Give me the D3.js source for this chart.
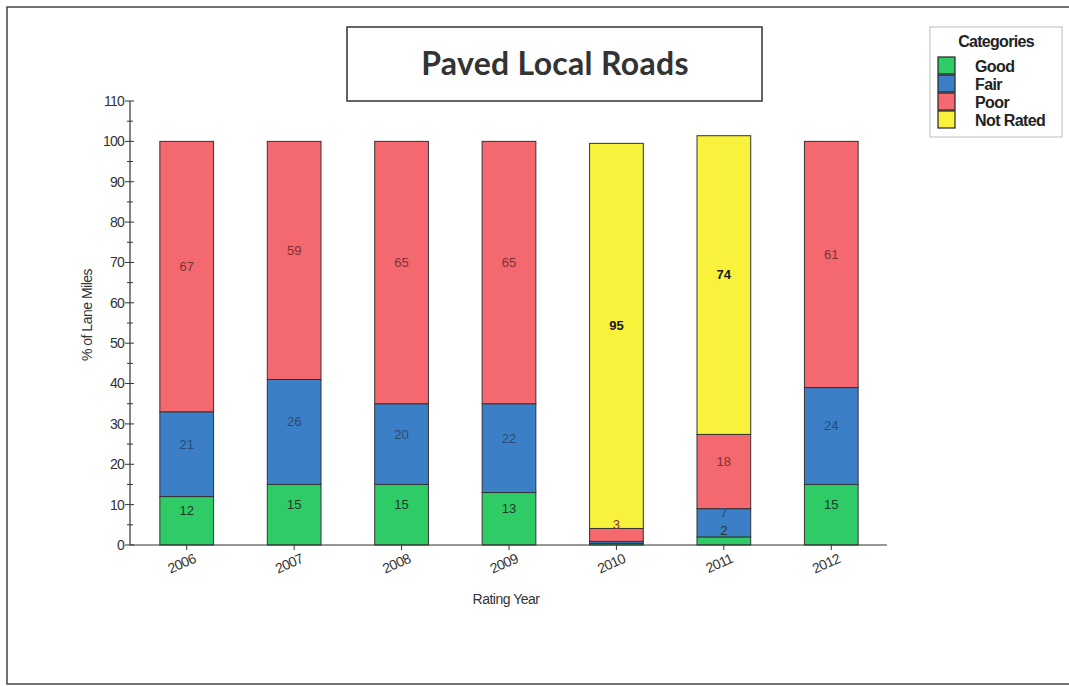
<!DOCTYPE html>
<html>
<head>
<meta charset="utf-8">
<script src="https://cdn.jsdelivr.net/npm/d3@7"></script>
<style>
  html, body { margin: 0; padding: 0; background: #fff; }
  svg { display: block; }
</style>
</head>
<body>
<svg id="chart" width="1069" height="686"></svg>
<script>
// ---- Data ----
const years    = ["2006", "2007", "2008", "2009", "2010", "2011", "2012"];
const good     = [12, 15, 15, 13, 0.4, 2, 15];
const fair     = [21, 26, 20, 22, 0.5, 7, 24];
const poor     = [67, 59, 65, 65, 3.2, 18.4, 61];
const notRated = [0, 0, 0, 0, 95.4, 74, 0];
const seriesNames = ["Good", "Fair", "Poor", "Not Rated"];
const yTicks = [0, 10, 20, 30, 40, 50, 60, 70, 80, 90, 100, 110];

const colors = { "Good": "#2fcb66", "Fair": "#3b7fc6", "Poor": "#f4696f", "Not Rated": "#f9f23c" };
const labelColors = { "Good": "#1f3a2a", "Fair": "#2a4a72", "Poor": "#7e3038", "Not Rated": "#1a1a1a" };

const table = years.map((y, i) => ({
  year: y, "Good": good[i], "Fair": fair[i], "Poor": poor[i], "Not Rated": notRated[i]
}));

const svg = d3.select("#chart");
const font = "'Liberation Sans', Arial, sans-serif";

// outer frame
svg.append("path")
  .attr("d", "M1069,7 L7,7 L7,684 L1069,684")
  .attr("fill", "none").attr("stroke", "#444").attr("stroke-width", 1.5);

// scales
const x = d3.scaleBand().domain(years).range([133, 885]).paddingInner(0.5).paddingOuter(0.25);
const y = d3.scaleLinear().domain([0, 110]).range([545, 101]);

// stacked bars
const stack = d3.stack().keys(seriesNames)(table);
const g = svg.append("g");
stack.forEach(layer => {
  const key = layer.key;
  g.selectAll(null).data(layer.filter(d => d[1] - d[0] > 0)).enter().append("rect")
    .attr("x", d => x(d.data.year))
    .attr("width", x.bandwidth())
    .attr("y", d => y(d[1]))
    .attr("height", d => y(d[0]) - y(d[1]))
    .attr("fill", colors[key])
    .attr("stroke", "#333")
    .attr("stroke-width", 1);
});
stack.forEach(layer => {
  const key = layer.key;
  g.selectAll(null).data(layer.filter(d => d[1] - d[0] >= 2)).enter().append("text")
    .attr("x", d => x(d.data.year) + x.bandwidth() / 2)
    .attr("y", d => (y(d[0]) + y(d[1])) / 2 - 9)
    .attr("text-anchor", "middle")
    .attr("dominant-baseline", "middle")
    .attr("font-family", font)
    .attr("font-size", 13)
    .attr("font-weight", key === "Not Rated" ? "bold" : "normal")
    .attr("fill", labelColors[key])
    .text(d => Math.round(d[1] - d[0]));
});

// y axis
const yAxis = svg.append("g").attr("transform", "translate(130,0)");
yAxis.append("line").attr("x1", 0).attr("x2", 0).attr("y1", y(110)).attr("y2", y(0))
  .attr("stroke", "#333").attr("stroke-width", 1.2);
const minor = d3.range(5, 110, 10);
yAxis.selectAll(".minor").data(minor).enter().append("line")
  .attr("x1", -3).attr("x2", 3).attr("y1", d => y(d)).attr("y2", d => y(d))
  .attr("stroke", "#333");
yAxis.selectAll(".major").data(yTicks).enter().append("line")
  .attr("x1", -5).attr("x2", 4).attr("y1", d => y(d)).attr("y2", d => y(d))
  .attr("stroke", "#333");
yAxis.selectAll(".lbl").data(yTicks).enter().append("text")
  .attr("x", -6).attr("y", d => y(d)).attr("dy", "0.35em")
  .attr("text-anchor", "end")
  .attr("font-family", font).attr("font-size", 14).attr("fill", "#333")
  .attr("letter-spacing", "-0.8")
  .text(d => d);

// x axis
svg.append("line").attr("x1", 130).attr("x2", 887).attr("y1", y(0)).attr("y2", y(0))
  .attr("stroke", "#333").attr("stroke-width", 1.2);
svg.selectAll(".xt").data(years).enter().append("line")
  .attr("x1", d => x(d) + x.bandwidth() / 2).attr("x2", d => x(d) + x.bandwidth() / 2)
  .attr("y1", y(0)).attr("y2", y(0) + 5)
  .attr("stroke", "#333");
svg.selectAll(".xl").data(years).enter().append("text")
  .attr("transform", d => `translate(${x(d) + x.bandwidth() / 2 + 10},${y(0) + 17}) rotate(-24)`)
  .attr("text-anchor", "end")
  .attr("font-family", font).attr("font-size", 14).attr("fill", "#333")
  .attr("letter-spacing", "-0.6")
  .text(d => d);

// axis titles
svg.append("text")
  .attr("transform", "translate(92,315) rotate(-90)")
  .attr("text-anchor", "middle")
  .attr("font-family", font).attr("font-size", 14).attr("fill", "#333")
  .attr("letter-spacing", "-0.5")
  .text("% of Lane Miles");
svg.append("text")
  .attr("x", 506).attr("y", 604)
  .attr("text-anchor", "middle")
  .attr("font-family", font).attr("font-size", 14).attr("fill", "#333")
  .attr("letter-spacing", "-0.5")
  .text("Rating Year");

// title box
svg.append("rect").attr("x", 347).attr("y", 27).attr("width", 415).attr("height", 74)
  .attr("fill", "#fff").attr("stroke", "#333").attr("stroke-width", 1.5);
svg.append("text")
  .attr("x", 555).attr("y", 75)
  .attr("text-anchor", "middle")
  .attr("font-family", "Lato, 'Open Sans', sans-serif").attr("font-weight", "bold")
  .attr("font-size", 32).attr("fill", "#333")
  .attr("letter-spacing", "0.3")
  .text("Paved Local Roads");

// legend
const lg = svg.append("g");
lg.append("rect").attr("x", 930).attr("y", 27).attr("width", 132).attr("height", 110)
  .attr("fill", "#fff").attr("stroke", "#bbb").attr("stroke-width", 1);
lg.append("text").attr("x", 996).attr("y", 47).attr("text-anchor", "middle")
  .attr("font-family", font).attr("font-weight", "bold").attr("font-size", 16)
  .attr("letter-spacing", "-0.7").attr("fill", "#222")
  .text("Categories");
seriesNames.forEach((s, i) => {
  const yy = 57 + i * 18;
  lg.append("rect").attr("x", 938).attr("y", yy).attr("width", 17).attr("height", 17)
    .attr("fill", colors[s]).attr("stroke", "#222").attr("stroke-width", 1.2);
  lg.append("text").attr("x", 975).attr("y", yy + 9).attr("dy", "0.35em")
    .attr("font-family", font).attr("font-weight", "bold").attr("font-size", 16)
    .attr("letter-spacing", "-0.6").attr("fill", "#222")
    .text(s);
});
</script>
</body>
</html>
